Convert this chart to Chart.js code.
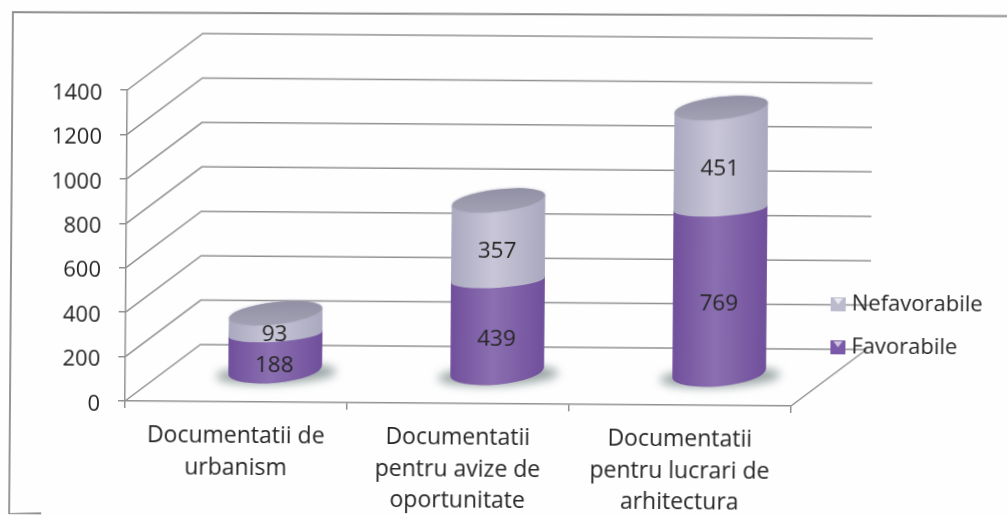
<!DOCTYPE html>
<html><head><meta charset="utf-8">
<script src="https://cdn.jsdelivr.net/npm/chart.js@4"></script>
<style>
html,body{margin:0;padding:0;background:#fefefe;overflow:hidden}
#w{position:relative;width:1007px;height:515px}
canvas{transform:rotate(0.43deg);transform-origin:125px 401px;filter:blur(0.4px)}
</style></head><body><div id="w"><canvas id="c" width="1007" height="515"></canvas></div>
<script>
const categories = [['Documentatii de','urbanism'],['Documentatii','pentru avize de','oportunitate'],['Documentatii','pentru lucrari de','arhitectura']];
const favorabile = [188,439,769];
const nefavorabile = [93,357,451];
const seriesNames = ['Favorabile','Nefavorabile'];
const FONT = '"Open Sans"';
const GRID = '#919191';
const INK = '#262626';
const depth = {x:75, y:-57};          // wall depth
const mid = {x:39, y:-26.5};          // where the bars stand on the floor
const rad = d => d*Math.PI/180;
const BASE = {ry:13, tilt:rad(-6), lift:5};
const JOIN = {ry:8, tilt:rad(-4)};
const CAP = {ry:11, tilt:rad(-7)};
const faces = [
  {edge:'#704f9b',mid:'#8b6fb1'},
  {edge:'#aaa8bf',mid:'#c8c6d7'}
];
const swatchColors = [['#7a5aa8','#cfc6e2'],['#bcbbcd','#eceaf2']];

function swatch(c){
  const s=document.createElement('canvas');s.width=20;s.height=14;
  const x=s.getContext('2d');
  x.fillStyle=c[0];x.fillRect(5,0,15,14);
  x.fillStyle=c[1];x.beginPath();x.moveTo(8,1);x.lineTo(17,1);x.lineTo(12.5,7);x.closePath();x.fill();
  return s;
}
const walls = {
  id:'walls',
  beforeDraw(ch){
    const {ctx,scales:{x,y}}=ch, L=x.left,R=x.right,B=y.bottom;
    ctx.save();
    ctx.strokeStyle='#8c8c8c';ctx.lineWidth=1.8;
    ctx.beginPath();ctx.moveTo(1007,9.5);ctx.lineTo(10,13);ctx.lineTo(10,515);ctx.lineTo(42,514);ctx.stroke();
    ctx.restore();
    ctx.save();
    ctx.strokeStyle=GRID;ctx.lineWidth=1.5;
    y.ticks.forEach(t=>{
      const p=y.getPixelForValue(t.value);
      ctx.beginPath();ctx.moveTo(L,p);ctx.lineTo(L+depth.x,p+depth.y);
      ctx.lineTo(R+depth.x+(t.value===0?0:4),p+depth.y);ctx.stroke();
    });
    ctx.beginPath();ctx.moveTo(R,B);ctx.lineTo(R+depth.x,B+depth.y);ctx.stroke();
    ctx.restore();
  }
};
const cylinders = {
  id:'cylinders',
  beforeDatasetDraw(){return false;},
  afterDatasetsDraw(ch){
    const ctx=ch.ctx, n=ch.data.labels.length;
    const m0=ch.getDatasetMeta(0).data, m1=ch.getDatasetMeta(1).data;
    ctx.save();
    for(let i=0;i<n;i++){
      const e=m0[i], cx=e.x+mid.x, rx=e.width/2, foot=e.base+mid.y-BASE.lift;
      ctx.save();ctx.filter='blur(5px)';ctx.fillStyle='#98a3a3';
      ctx.beginPath();ctx.ellipse(cx+1,foot+4,rx+13,BASE.ry-3,BASE.tilt/2,0,7);ctx.fill();ctx.restore();
      [m0[i],m1[i]].forEach((el,k)=>{
        const top=el.y+mid.y, bot=k?el.base+mid.y:foot, lo=k?JOIN:BASE, hi=k?CAP:JOIN;
        const g=ctx.createLinearGradient(cx-rx,0,cx+rx,0);
        g.addColorStop(0,faces[k].edge);g.addColorStop(.45,faces[k].mid);g.addColorStop(1,faces[k].edge);
        ctx.fillStyle=g;ctx.beginPath();
        ctx.ellipse(cx,bot,rx,lo.ry,lo.tilt,Math.PI,0,true);
        ctx.ellipse(cx,top,rx,hi.ry,hi.tilt,0,Math.PI,true);
        ctx.closePath();ctx.fill();
      });
      const t=m1[i].y+mid.y, g=ctx.createLinearGradient(0,t-CAP.ry-5,0,t+CAP.ry+5);
      g.addColorStop(0,'#8f8da1');g.addColorStop(1,'#a5a3b5');
      ctx.save();ctx.shadowColor='rgba(170,168,190,.9)';ctx.shadowBlur=3;
      ctx.fillStyle=g;ctx.beginPath();ctx.ellipse(cx,t,rx-.5,CAP.ry,CAP.tilt,0,7);ctx.fill();ctx.restore();
      ctx.font='22.5px '+FONT;ctx.fillStyle=INK;ctx.textAlign='center';ctx.textBaseline='middle';
      [[m0[i],favorabile[i]],[m1[i],nefavorabile[i]]].forEach(([el,v])=>{
        ctx.fillText(String(v),cx-1,(el.y+el.base)/2+mid.y+11);
      });
    }
    ctx.restore();
  }
};
const placeLegend = {
  id:'placeLegend',
  afterLayout(ch){
    const l=ch.legend,w=l.width,h=l.height;
    l.left=809;l.right=809+w;l.top=267;l.bottom=267+h;
  }
};
function nudgeLabels(s){
  const orig=s.getLabelItems.bind(s);
  s.getLabelItems=a=>{
    const items=orig(a);
    if(!items._moved){items.forEach(i=>{i.options.translation[1]+=3.5;});items._moved=true;}
    return items;
  };
}
new Chart(document.getElementById('c'),{
  type:'bar',
  data:{labels:categories,datasets:[
    {label:seriesNames[0],data:favorabile,backgroundColor:'#7d5ca6',pointStyle:swatch(swatchColors[0])},
    {label:seriesNames[1],data:nefavorabile,backgroundColor:'#b9b7cb',pointStyle:swatch(swatchColors[1])}
  ]},
  plugins:[walls,placeLegend,cylinders],
  options:{
    responsive:false,animation:false,devicePixelRatio:1,
    layout:{padding:{left:0,right:216,top:90,bottom:0}},
    datasets:{bar:{categoryPercentage:1,barPercentage:.424}},
    scales:{
      x:{stacked:true,
        afterFit(s){s.height=114;},
        grid:{drawOnChartArea:false,drawTicks:true,tickLength:7,color:GRID,lineWidth:1.5},
        border:{display:true,color:GRID,width:1.5},
        ticks:{color:INK,maxRotation:0,autoSkip:false,padding:11,font:{family:FONT,size:23,lineHeight:1.39}}},
      y:{stacked:true,min:0,max:1400,
        afterFit(s){s.width=125;},
        afterUpdate:nudgeLabels,
        grid:{drawOnChartArea:false,drawTicks:true,tickLength:7,color:GRID,lineWidth:1.5},
        border:{display:true,color:GRID,width:1.5},
        ticks:{stepSize:200,color:INK,padding:18,font:{family:FONT,size:22},callback:v=>String(v)}}
    },
    plugins:{tooltip:{enabled:false},
      legend:{position:'chartArea',align:'start',reverse:true,
        labels:{usePointStyle:true,pointStyleWidth:10,boxHeight:14,padding:21,color:INK,font:{family:FONT,size:22}}}}
  }
});
</script></body></html>
